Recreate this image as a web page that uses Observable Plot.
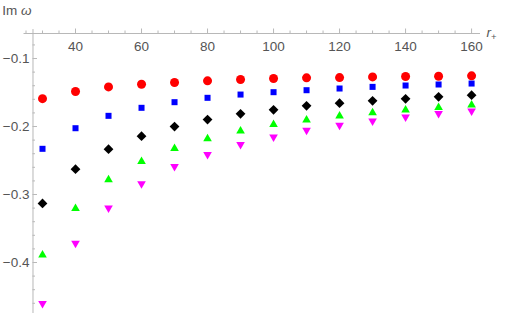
<!DOCTYPE html>
<html><head><meta charset="utf-8">
<script src="https://cdn.jsdelivr.net/npm/d3@7"></script>
<script src="https://cdn.jsdelivr.net/npm/@observablehq/plot@0.6"></script>
<style>body{margin:0;background:#fff;} svg{display:block}</style>
</head><body><div id="chart"></div>
<script>
// r_+ values (horizontal)
const rPlus = [30, 40, 50, 60, 70, 80, 90, 100, 110, 120, 130, 140, 150, 160];
// Im ω for the five series
const seriesRed     = [-0.159, -0.1485, -0.1417, -0.1378, -0.1353, -0.1328, -0.1309, -0.1294, -0.1284, -0.128, -0.127, -0.1265, -0.126, -0.1255];
const seriesBlue    = [-0.2328, -0.2025, -0.1843, -0.1725, -0.1642, -0.1578, -0.153, -0.1495, -0.1466, -0.1441, -0.1417, -0.1397, -0.1382, -0.1368];
const seriesBlack   = [-0.3132, -0.2628, -0.2334, -0.2142, -0.2, -0.1897, -0.1814, -0.1755, -0.1696, -0.1657, -0.1622, -0.1593, -0.1564, -0.154];
const seriesGreen   = [-0.3872, -0.3186, -0.2765, -0.2495, -0.2304, -0.2162, -0.2049, -0.1951, -0.1887, -0.1828, -0.1779, -0.174, -0.1701, -0.1666];
const seriesMagenta = [-0.4622, -0.3735, -0.3216, -0.286, -0.2607, -0.2431, -0.2284, -0.2172, -0.2074, -0.2, -0.1937, -0.1878, -0.1828, -0.179];
// tick labels
const xTickLabels = [40, 60, 80, 100, 120, 140, 160];
const yTickLabels = [-0.1, -0.2, -0.3, -0.4];
const xMinorTicks = [25,30,35,45,50,55,65,70,75,85,90,95,105,110,115,125,130,135,145,150,155];
const yMinorTicks = [-0.08,-0.12,-0.14,-0.16,-0.18,-0.22,-0.24,-0.26,-0.28,-0.32,-0.34,-0.36,-0.38,-0.42,-0.44,-0.46];

// axes geometry (data units)
const xDomain = [25, 162.7];
const yDomain = [-0.475, -0.0632];
const axisXAt = 27.12;      // where vertical axis sits
const axisYAt = -0.0632;    // where horizontal axis sits
const xAxisStart = 24.4;
const yAxisTop = -0.0574;

const axisColor = "#b8b8b8";
const textColor = "#555";
const font = "Liberation Sans, Arial, Helvetica, sans-serif";

const mk = (ys) => rPlus.map((r, i) => ({r, v: ys[i]}));

const triUp = {draw(ctx, size) {
  const s = Math.sqrt(size * 4 / Math.sqrt(3)), h = s * Math.sqrt(3) / 2;
  ctx.moveTo(0, -h / 2); ctx.lineTo(s / 2, h / 2); ctx.lineTo(-s / 2, h / 2); ctx.closePath();
}};
const triDown = {draw(ctx, size) {
  const s = Math.sqrt(size * 4 / Math.sqrt(3)), h = s * Math.sqrt(3) / 2;
  ctx.moveTo(0, h / 2); ctx.lineTo(s / 2, -h / 2); ctx.lineTo(-s / 2, -h / 2); ctx.closePath();
}};

const plot = Plot.plot({
  width: 505, height: 313,
  marginLeft: 25.5, marginRight: 25, marginTop: 33, marginBottom: 0,
  style: {fontFamily: font, fontSize: "13.5px", background: "#fff"},
  x: {domain: xDomain, range: [25.5, 480], axis: null},
  y: {domain: yDomain, range: [313, 33], axis: null},
  marks: [
    // axis lines
    Plot.ruleY([axisYAt], {y: d => d, x1: xAxisStart, x2: xDomain[1], stroke: axisColor}),
    Plot.ruleX([axisXAt], {x: d => d, y1: yAxisTop, y2: yDomain[0], stroke: axisColor}),
    // x ticks (upward)
    Plot.ruleX(xMinorTicks, {x: d => d, y1: axisYAt, y2: axisYAt, insetTop: -2.5, stroke: axisColor}),
    Plot.ruleX(xTickLabels, {x: d => d, y1: axisYAt, y2: axisYAt, insetTop: -4.5, stroke: axisColor}),
    // y ticks (rightward)
    Plot.ruleY(yMinorTicks, {y: d => d, x1: axisXAt, x2: axisXAt, insetRight: -2.5, stroke: axisColor}),
    Plot.ruleY(yTickLabels, {y: d => d, x1: axisXAt, x2: axisXAt, insetRight: -4.5, stroke: axisColor}),
    // tick labels
    Plot.text(xTickLabels, {x: d => d, frameAnchor: "top", dy: 13, lineAnchor: "middle", text: d => String(d), fill: textColor}),
    Plot.text(yTickLabels, {y: d => d, x: axisXAt, dx: -3.5, textAnchor: "end", lineAnchor: "middle", text: d => d3.format(".1f")(d), fill: textColor}),
    // data
    Plot.dot(mk(seriesMagenta), {x: "r", y: "v", symbol: triDown, r: 3.2, fill: "#ff00ff"}),
    Plot.dot(mk(seriesGreen), {x: "r", y: "v", symbol: triUp, r: 3.2, fill: "#00ff00"}),
    Plot.dot(mk(seriesBlack), {x: "r", y: "v", symbol: "diamond2", r: 4.4, fill: "#000", stroke: "none"}),
    Plot.dot(mk(seriesBlue), {x: "r", y: "v", symbol: "square", r: 3.4, fill: "#0000ff"}),
    Plot.dot(mk(seriesRed), {x: "r", y: "v", symbol: "circle", r: 4.5, fill: "#ff0000"})
  ]
});

const svg = d3.select(plot);
const yl = svg.append("text").attr("x", 17).attr("y", 15).attr("fill", textColor)
  .attr("font-family", font).attr("font-size", "13.5px");
yl.append("tspan").text("Im ");
yl.append("tspan").attr("font-style", "italic").text("ω");
const xl = svg.append("text").attr("x", 491.5).attr("y", 37).attr("fill", textColor)
  .attr("font-family", font).attr("font-size", "13.5px");
xl.append("tspan").attr("font-style", "italic").text("r");
xl.append("tspan").attr("font-size", "9.5px").attr("dy", 3).text("+");

document.getElementById("chart").append(plot);
</script>
</body></html>
